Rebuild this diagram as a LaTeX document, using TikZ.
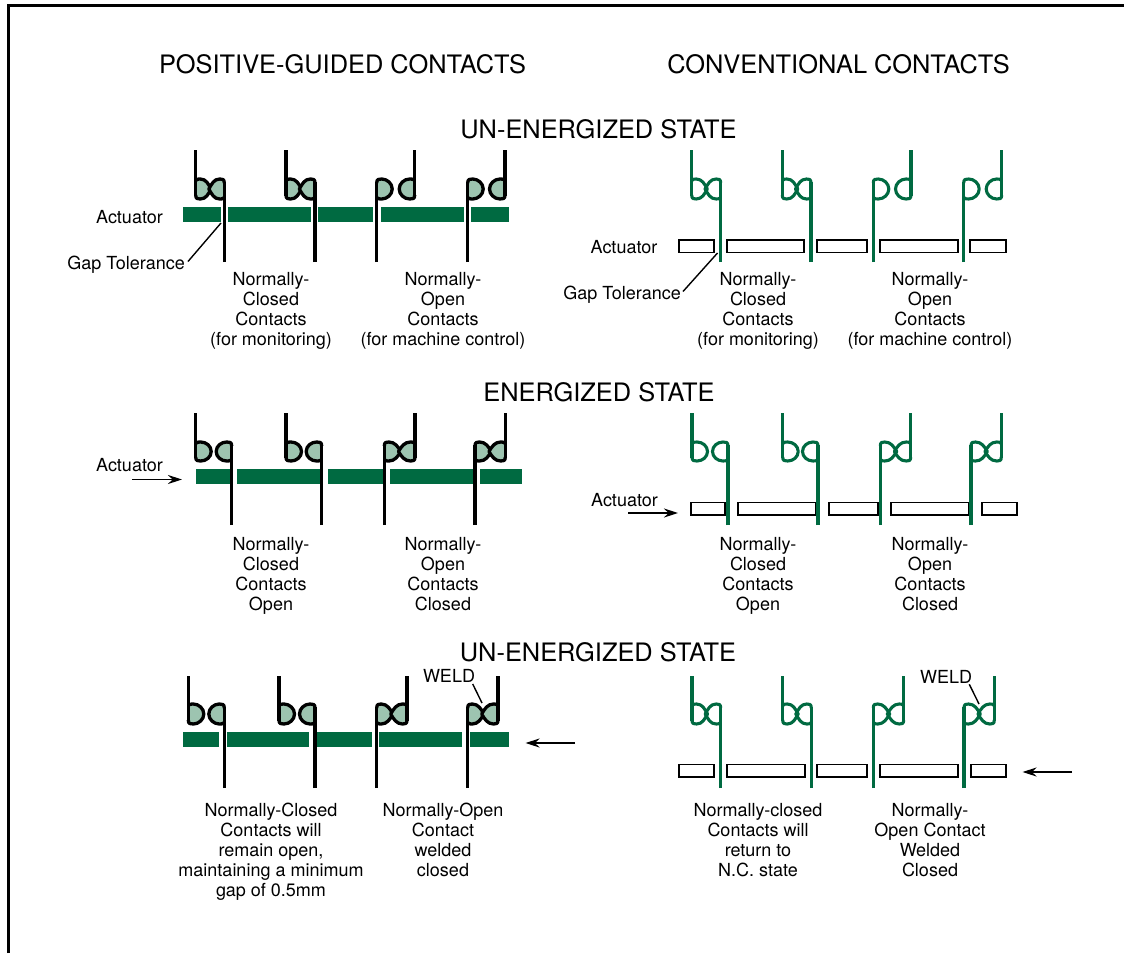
\documentclass[tikz,border=0pt]{standalone}
\usepackage{fontspec}
\setmainfont{TeX Gyre Heros}
\usetikzlibrary{arrows.meta}
\definecolor{cgreen}{HTML}{006A41}
\definecolor{clight}{HTML}{9DC4B0}
\tikzset{
 lab/.style={align=center,inner sep=0pt,font=\fontsize{18}{20}\selectfont,
   execute at begin node={\rule{0pt}{14pt}},execute at end node={\rule[-4pt]{0pt}{4pt}}},
 head/.style={inner sep=0pt,font=\fontsize{25.4}{28}\selectfont},
 blk/.style={draw=black,line width=3.3pt},
 grn/.style={draw=cgreen,line width=3.1pt},
 blkfill/.style={fill=clight},
 grnfill/.style={},
 solidbar/.style={fill=cgreen,draw=none},
 openbar/.style={draw=black,line width=1.8pt,fill=white},
 leader/.style={draw=black,line width=1.4pt},
 arrowline/.style={draw=black,line width=1.5pt,-{Stealth[length=14pt,width=9pt]}},
}
% #1 stem x, #2 dir, #3 corner y, #4 other y, #5 half width, #6 closed(1)/open(0), #7 stroke style, #8 fill style
\newcommand\halfc[8]{%
 \pgfmathsetmacro\ym{(#3+#4)/2}%
 \pgfmathsetmacro\sg{(#3>#4)?1:-1}%
 \ifnum#6=1\relax
  \def\cpath{(#1,#4+\sg*1.5) .. controls ({#1+#2*1},#4) and ({#1+#2*3},#4) .. ({#1+#2*4.5},#4) .. controls ({#1+#2*10.5},#4) and ({#1+#2*(#5-3)},\ym-\sg*5) .. ({#1+#2*#5},\ym) .. controls ({#1+#2*(#5-3)},\ym+\sg*5) and ({#1+#2*10.5},#3) .. ({#1+#2*4.5},#3) .. controls ({#1+#2*2},#3) and (#1,#3) .. (#1,#3-\sg*4)}%
 \else
  \def\cpath{(#1,#4+\sg*1.5) .. controls ({#1+#2*1},#4) and ({#1+#2*3},#4) .. ({#1+#2*5},#4) .. controls ({#1+#2*10.5},#4) and ({#1+#2*#5},\ym-\sg*5.5) .. ({#1+#2*#5},\ym) .. controls ({#1+#2*#5},\ym+\sg*5.5) and ({#1+#2*10.5},#3) .. ({#1+#2*5},#3) .. controls ({#1+#2*2},#3) and (#1,#3) .. (#1,#3-\sg*4)}%
 \fi
 \expandafter\halfdraw\expandafter{\cpath}{#7}{#8}%
}
\newcommand\halfdraw[3]{%
 \path[#3] #1 -- cycle;
 \draw[#2,line join=round] #1;
}
% #1 xL #2 xR #3 top #4 bowl top #5 bowl bottom #6 bottom #7 style prefix (blk/grn)
\newcommand\bqc[7]{%
 \pgfmathtruncatemacro\cl{(#2-#1)<33?1:0}%
 \pgfmathsetmacro\hw{\cl==1?(#2-#1)/2+1.2:15.5}%
 \xdef\cla{\cl}\xdef\hwa{\hw}%
 \halfc{#1}{1}{#5}{#4}{\hwa}{\cla}{#7}{#7fill}%
 \halfc{#2}{-1}{#4}{#5}{\hwa}{\cla}{#7}{#7fill}%
 \draw[#7] (#1,#3) -- (#1,#5-3);
 \draw[#7] (#2,#6) -- (#2,#4+3);
}
\newcommand\pdc[7]{%
 \pgfmathtruncatemacro\cl{(#2-#1)<33?1:0}%
 \pgfmathsetmacro\hw{\cl==1?(#2-#1)/2+1.2:15.5}%
 \xdef\cla{\cl}\xdef\hwa{\hw}%
 \halfc{#1}{1}{#4}{#5}{\hwa}{\cla}{#7}{#7fill}%
 \halfc{#2}{-1}{#5}{#4}{\hwa}{\cla}{#7}{#7fill}%
 \draw[#7] (#1,#6) -- (#1,#4+3);
 \draw[#7] (#2,#3) -- (#2,#5-3);
}
\begin{document}
\begin{tikzpicture}[x=1pt,y=-1pt]
\useasboundingbox (0,0) rectangle (1124,953);
\fill[white] (0,0) rectangle (1124,953);
% frame
\draw[black,line width=2.8pt] (8.5,953) -- (8.5,5.8) -- (1124,5.8);
% headings
\node[head] (h1) at (342.5,64) {POSITIVE-GUIDED CONTACTS};
\node[head] (h2) at (838.5,64) {CONVENTIONAL CONTACTS};
\node[head] (h3) at (598.5,129) {UN-ENERGIZED STATE};
\node[head] (h4) at (599,392) {ENERGIZED STATE};
\node[head] (h5) at (598,652) {UN-ENERGIZED STATE};
% bars row 1 left
\foreach \a/\b in {183/220.7,227.7/311,318.3/373.3,380.7/464,471/509}{\path[solidbar] (\a,207) rectangle (\b,222);}
% bars row 1 right
\foreach \a/\b in {679.3/714.3,726.7/804.3,817.3/867.3,880/957.7,970.3/1005.7}{\path[openbar] (\a,240) rectangle (\b,252.5);}
% bars row 2 left
\foreach \a/\b in {195.7/230,236.7/320.7,327.7/382.7,390/474,480.3/522}{\path[solidbar] (\a,469) rectangle (\b,484);}
% bars row 2 right
\foreach \a/\b in {690.7/725.3,738.3/815.7,829/878,891.3/968.7,982/1017.3}{\path[openbar] (\a,502.5) rectangle (\b,515);}
% bars row 3 left
\foreach \a/\b in {183/219,226.7/309.3,317/371.7,379/462.3,469.7/509}{\path[solidbar] (\a,732) rectangle (\b,747);}
% bars row 3 right
\foreach \a/\b in {679.3/713.7,726.7/804.7,817.3/867,880/957.7,970.7/1005.7}{\path[openbar] (\a,764.5) rectangle (\b,777);}
% contacts row 1
\bqc{195.7}{224.3}{150}{179}{199}{262}{blk}
\bqc{286}{315}{150}{179}{199}{262}{blk}
\pdc{376.7}{414.7}{150}{179}{199}{262}{blk}
\pdc{467.7}{505}{150}{179}{199}{262}{blk}
\bqc{691.7}{720.7}{150}{179}{199}{262}{grn}
\bqc{782.3}{811}{150}{179}{199}{262}{grn}
\pdc{873.3}{911}{150}{179}{199}{262}{grn}
\pdc{963.7}{1001.7}{150}{179}{199}{262}{grn}
% contacts row 2
\bqc{195.7}{231.7}{413}{442}{461}{525}{blk}
\bqc{286}{321.7}{413}{442}{461}{525}{blk}
\pdc{384.3}{415}{413}{442}{461}{525}{blk}
\pdc{475}{505.3}{413}{442}{461}{525}{blk}
\bqc{692}{728}{413}{442}{461}{525}{grn}
\bqc{782.7}{818}{413}{442}{461}{525}{grn}
\pdc{880.3}{910.7}{413}{442}{461}{525}{grn}
\pdc{971}{1001.3}{413}{442}{461}{525}{grn}
% contacts row 3
\bqc{188.3}{224.3}{676}{704}{724}{788}{blk}
\bqc{279}{315}{676}{704}{724}{788}{blk}
\pdc{376.7}{407}{676}{704}{724}{788}{blk}
\pdc{467.7}{498}{676}{704}{724}{788}{blk}
\bqc{692}{720.7}{676}{704}{724}{788}{grn}
\bqc{782.7}{811.3}{676}{704}{724}{788}{grn}
\pdc{873.3}{903.7}{676}{704}{724}{788}{grn}
\pdc{964}{994.3}{676}{704}{724}{788}{grn}
% labels row 1
\node[lab] (a1) at (129.5,218.5) {Actuator};
\node[lab,anchor=east] (g1) at (185,264.5) {Gap Tolerance};
\coordinate (g1e) at (221,223);
\draw[leader] (g1.east) ++(3,-3) -- (g1e);
\node[lab] (n1) at (271,310.5) {Normally-\\Closed\\Contacts\\(for monitoring)};
\node[lab] (n2) at (443,310.5) {Normally-\\Open\\Contacts\\(for machine control)};
\node[lab] (a2) at (624,248.5) {Actuator};
\node[lab,anchor=east] (g2) at (681,294.5) {Gap Tolerance};
\coordinate (g2e) at (717.5,253);
\draw[leader] (g2.east) ++(2,-3) -- (g2e);
\node[lab] (n3) at (758,310.5) {Normally-\\Closed\\Contacts\\(for monitoring)};
\node[lab] (n4) at (930,310.5) {Normally-\\Open\\Contacts\\(for machine control)};
% labels row 2
\node[lab] (a3) at (129.5,466.5) {Actuator};
\coordinate (a3s) at (132,479.5);
\coordinate (a3e) at (182,479.5);
\draw[arrowline] (a3s) -- (a3e);
\node[lab] (n5) at (271,575.5) {Normally-\\Closed\\Contacts\\Open};
\node[lab] (n6) at (443,575.5) {Normally-\\Open\\Contacts\\Closed};
\node[lab] (a4) at (624.5,501.5) {Actuator};
\coordinate (a4s) at (628,513);
\coordinate (a4e) at (678,513);
\draw[arrowline] (a4s) -- (a4e);
\node[lab] (n7) at (758,575.5) {Normally-\\Closed\\Contacts\\Open};
\node[lab] (n8) at (930,575.5) {Normally-\\Open\\Contacts\\Closed};
% labels row 3
\node[lab] (w1) at (449,677.5) {WELD};
\coordinate (w1s) at (472.7,684);
\coordinate (w1e) at (482,703);
\draw[leader] (w1s) -- (w1e);
\coordinate (a5s) at (575,743);
\coordinate (a5e) at (525.5,743);
\draw[arrowline] (a5s) -- (a5e);
\node[lab] (w2) at (946,678.5) {WELD};
\coordinate (w2s) at (969.3,684.3);
\coordinate (w2e) at (979,704);
\draw[leader] (w2s) -- (w2e);
\coordinate (a6s) at (1072,772);
\coordinate (a6e) at (1022.5,772);
\draw[arrowline] (a6s) -- (a6e);
\node[lab] (n9) at (271,851.5) {Normally-Closed\\Contacts will\\remain open,\\maintaining a minimum\\gap of 0.5mm};
\node[lab] (n10) at (443,841.5) {Normally-Open\\Contact\\welded\\closed};
\node[lab] (n11) at (758,841.5) {Normally-closed\\Contacts will\\return to\\N.C. state};
\node[lab] (n12) at (930,841.5) {Normally-\\Open Contact\\Welded\\Closed};
\end{tikzpicture}
\end{document}
